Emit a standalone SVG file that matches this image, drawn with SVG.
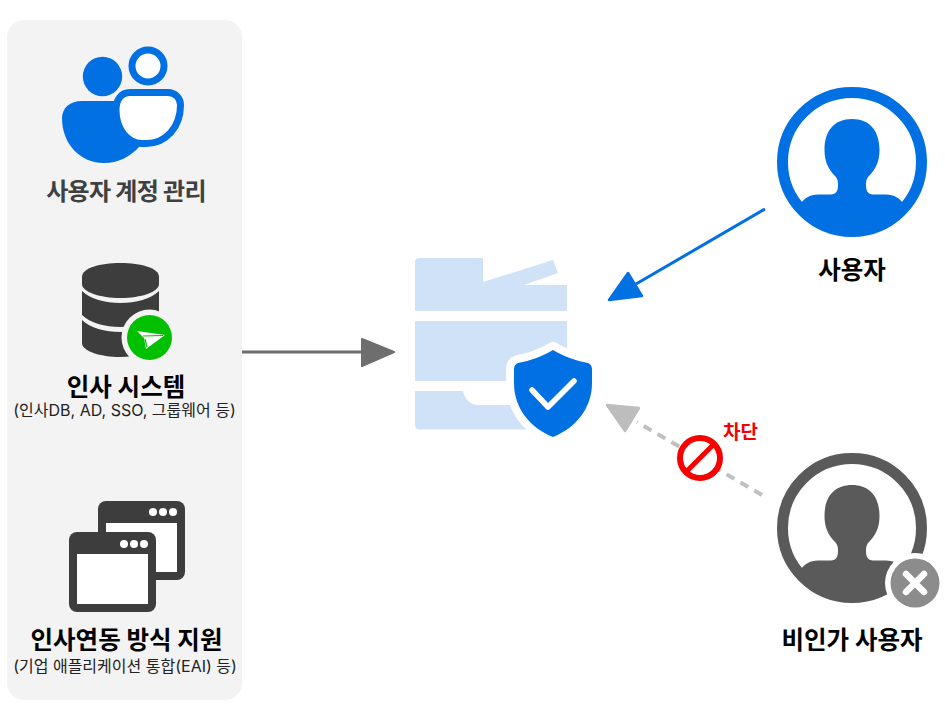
<svg xmlns="http://www.w3.org/2000/svg" width="945" height="720" viewBox="0 0 945 720">
  <style>
    text { font-family: Inter, "Noto Sans CJK KR", "Noto Sans", sans-serif; text-anchor: middle; }
    .title { font-size: 24.500px; font-weight: 700; fill: #000; }
    .sub { font-size: 16px; font-weight: 400; fill: #222; }
    .blue { fill: #0170e3; }
    .dark { fill: #3d3d3d; }
  </style>
  <defs>
    <path id="bust" d="M0-43C-18-43-27.500-31-27.500-12C-27.500-1-24 7-17 14C-15 16-14 18-14 23C-14 29-16 32.500-21 32.500L-34 32.500C-42 32.500-47 36-51 41L-52 75L52 75L51 41C47 36 42 32.500 34 32.500L21 32.500C16 32.500 14 29 14 23C14 18 15 16 17 14C24 7 27.500-1 27.500-12C27.500-31 18-43 0-43Z"/>
    <clipPath id="disc"><circle r="74"/></clipPath>
  </defs>

  <rect id="panel" x="7" y="20" width="235" height="680" rx="17" fill="#f3f3f3"/>

  <g id="account-management">
    <circle class="blue" cx="102.500" cy="76.500" r="19.700"/>
    <circle cx="148" cy="66" r="16" fill="#fff" stroke="#0170e3" stroke-width="7"/>
    <path class="blue" d="M82 101L125 101L140 146C130 157 118 163 104 163C80 163 62 144 62 118C62 108 70 101 82 101Z"/>
    <path d="M130 92.500L168 92.500C175 92.500 180.500 98 180.500 105C180.500 127 166 143.500 146 143.500L142 143.500C128 143.500 116 130 116 110C116 100 121 92.500 130 92.500Z" fill="#fff" stroke="#0170e3" stroke-width="7"/>
    <text class="title" x="126" y="200" style="fill:#404040;font-size:24px;letter-spacing:-0.700px">사용자 계정 관리</text>
  </g>

  <g id="hr-system">
    <path class="dark" d="M82 277C82 268 100 263 120.500 263C141 263 159 268 159 277L159 284C159 292 141 298 120.500 298C100 298 82 292 82 284Z"/>
    <path class="dark" d="M82 291C90 299 105 303 120.500 303C136 303 151 299 159 291L159 315C151 323 136 327 120.500 327C105 327 90 323 82 315Z"/>
    <path class="dark" d="M82 320C90 328 105 332 120.500 332C136 332 151 328 159 320L159 343C151 352 136 357 120.500 357C100 357 82 351 82 343Z"/>
    <circle cx="149.500" cy="337.500" r="28" fill="#f3f3f3"/>
    <circle cx="149.500" cy="337.500" r="22.500" fill="#00c000"/>
    <path d="M137 331L165 335L146 349L144 338Z" fill="#fff"/>
    <path d="M143 336L163 335.500M145 339L147 347" stroke="#00c000" stroke-width="1.200" fill="none"/>
    <text class="title" x="126" y="396">인사 시스템</text>
    <text class="sub" x="124.500" y="416">(인사DB, AD, SSO, 그룹웨어 등)</text>
  </g>

  <g id="hr-integration">
    <rect class="dark" x="98" y="501" width="87" height="79" rx="8"/>
    <rect x="106" y="523" width="71" height="49" fill="#fff"/>
    <circle cx="153" cy="512" r="4" fill="#fff"/>
    <circle cx="163" cy="512" r="4" fill="#fff"/>
    <circle cx="173" cy="512" r="4" fill="#fff"/>
    <rect class="dark" x="69" y="532" width="87" height="80" rx="8"/>
    <rect x="77" y="554" width="71" height="50" fill="#fff"/>
    <circle cx="124" cy="544" r="4" fill="#fff"/>
    <circle cx="134" cy="544" r="4" fill="#fff"/>
    <circle cx="144" cy="544" r="4" fill="#fff"/>
    <text class="title" x="126.500" y="649">인사연동 방식 지원</text>
    <text class="sub" x="125" y="672">(기업 애플리케이션 통합(EAI) 등)</text>
  </g>

  <g id="printer">
    <path fill="#cfe2f8" d="M419 258L483 258L483 282L553 260L558 273L524 285L567 285L567 311L415 311L415 262Q415 258 419 258Z"/>
    <path fill="#cfe2f8" d="M415 321L567 321L567 381L415 381Z"/>
    <path fill="#cfe2f8" d="M415 391L463 391C465 400 471 405 478 405L530 405L530 429.500L420 429.500Q415 429.500 415 425Z"/>
    <path d="M553 350C543 356 530 361 518 363C515.500 364 514 366 514 369L514 383C514 408 530 428 553 437C576 428 592 408 592 383L592 369C592 366 590.500 364 588 363C576 361 563 356 553 350Z" fill="#0170e3" stroke="#fff" stroke-width="16" paint-order="stroke" stroke-linejoin="round"/>
    <path d="M532 390L548 407L574 381" fill="none" stroke="#fff" stroke-width="5.500" stroke-linecap="round" stroke-linejoin="round"/>
  </g>

  <g id="user">
    <circle cx="852" cy="162" r="69.500" fill="#fff" stroke="#0170e3" stroke-width="11"/>
    <g transform="translate(852 162)" clip-path="url(#disc)"><use href="#bust" class="blue"/></g>
    <text class="title" x="852" y="279">사용자</text>
  </g>

  <g id="unauthorized-user">
    <circle cx="852" cy="528" r="69.500" fill="#fff" stroke="#5a5a5a" stroke-width="11"/>
    <g transform="translate(852 528)" clip-path="url(#disc)"><use href="#bust" fill="#5a5a5a"/></g>
    <circle cx="915" cy="583" r="30" fill="#fff"/>
    <circle cx="915" cy="583" r="24.500" fill="#8c8c8c"/>
    <path d="M906 574L924 592M924 574L906 592" stroke="#fff" stroke-width="6.500" stroke-linecap="round"/>
    <text class="title" x="852" y="649">비인가 사용자</text>
  </g>

  <g id="connectors">
    <path d="M242 352L365 352" stroke="#6e6e6e" stroke-width="3" fill="none"/>
    <path d="M362 339L394 352L362 366Z" fill="#6e6e6e" stroke="#6e6e6e" stroke-width="2" stroke-linejoin="round"/>
    <path d="M765 209L636 284" stroke="#0170e3" stroke-width="3" fill="none"/>
    <path d="M609 300L628 273L642 296Z" fill="#0170e3" stroke="#0170e3" stroke-width="2.500" stroke-linejoin="round"/>
    <path d="M762 495L637 422" stroke="#c0c0c0" stroke-width="4" stroke-dasharray="9 7" fill="none"/>
    <path d="M607 405L639 408L625 431Z" fill="#bdbdbd" stroke="#bdbdbd" stroke-width="2.500" stroke-linejoin="round"/>
  </g>

  <g id="blocked">
    <circle cx="700" cy="458" r="20" fill="#fff" stroke="#f60000" stroke-width="6"/>
    <path d="M686 472L714 444" stroke="#f60000" stroke-width="5"/>
    <text x="740.500" y="439" font-size="19" font-weight="700" fill="#f60000">차단</text>
  </g>
</svg>
